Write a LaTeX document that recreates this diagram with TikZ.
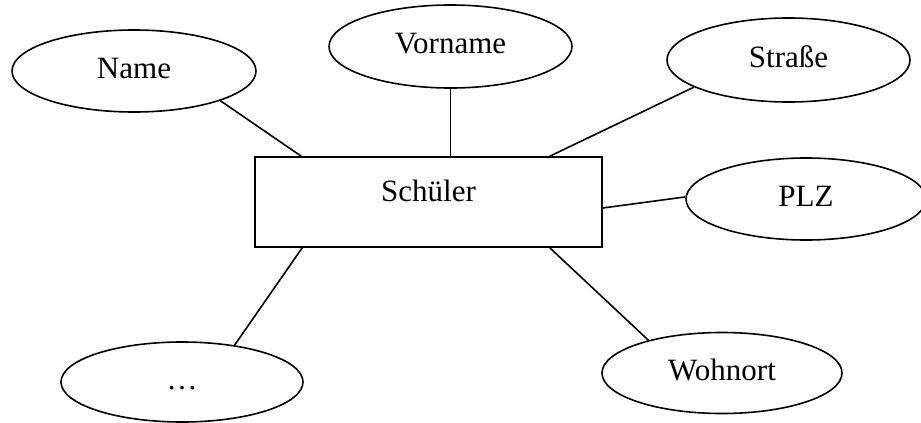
\documentclass[tikz,border=0pt]{standalone}
\usepackage{fontspec}
\setmainfont{Liberation Serif}
\usetikzlibrary{shapes.geometric}
\begin{document}
\begin{tikzpicture}[x=1pt,y=-1pt,
  attr/.style={draw,ellipse,line width=1.6pt,inner sep=0pt,minimum width=243pt,minimum height=82pt,
    font=\fontsize{31}{36}\selectfont,text height=21pt,text depth=7pt},
  entity/.style={draw,rectangle,line width=1.6pt,inner sep=0pt,minimum width=347pt,minimum height=90pt,
    font=\fontsize{31}{36}\selectfont,text height=21pt,text depth=23pt},
  link/.style={line width=1.6pt}]
\useasboundingbox (0,0) rectangle (921,423);
\node[entity] (rect) at (428.5,202) {Schüler};
\node[attr,minimum width=244pt] (name) at (134,71) {Name};
\node[attr,minimum height=83pt] (vorname) at (450.5,46.5) {Vorname};
\node[attr,minimum height=84pt] (strasse) at (788.5,60) {Straße};
\node[attr,minimum width=240pt] (plz) at (806,199) {PLZ};
\node[attr,minimum width=240pt,minimum height=81pt] (wohnort) at (722,373) {Wohnort};
\node[attr,minimum width=242pt,minimum height=80pt] (dots) at (182,382) {…};
\draw[link] (name.-19) -- ([xshift=47pt]rect.north west);
\draw[link] (vorname.south) -- (vorname.south |- rect.north);
\draw[link] (strasse.-164.7) -- ([xshift=-53pt]rect.north east);
\draw[link] (plz.179) -- ([yshift=-6pt]rect.east);
\draw[link] (wohnort.156.4) -- ([xshift=-53pt]rect.south east);
\draw[link] (dots.35) -- ([xshift=48pt]rect.south west);
\end{tikzpicture}
\end{document}
